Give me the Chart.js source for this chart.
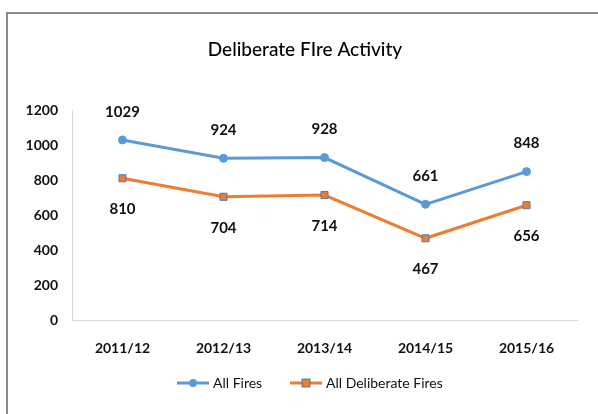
<!DOCTYPE html>
<html>
<head>
<meta charset="utf-8">
<script src="https://cdn.jsdelivr.net/npm/chart.js@4"></script>
<style>
  body { margin: 0; background: #fff; }
  #wrap { position: relative; width: 598px; height: 414px; }
  #frame { position: absolute; left: 6px; top: 12px; right: -4px; bottom: -4px;
           border-top: 2px solid #8a8a8a; border-left: 2px solid #8a8a8a; }
  canvas { position: absolute; left: 0; top: 0; }
</style>
</head>
<body>
<div id="wrap">
  <canvas id="chart" width="598" height="414"></canvas>
  <div id="frame"></div>
</div>
<script>
// Dados do gráfico
const years = ['2011/12', '2012/13', '2013/14', '2014/15', '2015/16'];
const allFires = [1029, 924, 928, 661, 848];
const deliberateFires = [810, 704, 714, 467, 656];
const seriesNames = ['All Fires', 'All Deliberate Fires'];

const blue = '#5B9BD5';
const orange = '#ED7D31';
const fontFamily = 'Lato, "Open Sans", sans-serif';

// Rótulos de valores (acima para a 1ª série, abaixo para a 2ª)
const valueLabels = {
    id: 'valueLabels',
    afterDatasetsDraw(chart) {
        const ctx = chart.ctx;
        ctx.save();
        ctx.font = 'bold 15px ' + fontFamily;
        ctx.fillStyle = '#111';
        ctx.textAlign = 'center';
        ctx.textBaseline = 'middle';
        chart.data.datasets.forEach((ds, i) => {
            const offset = i === 0 ? -28 : 31;
            chart.getDatasetMeta(i).data.forEach((pt, j) => {
                ctx.fillText(ds.data[j], pt.x, pt.y + offset);
            });
        });
        ctx.restore();
    }
};

// Título e legenda desenhados à mão
const titleAndLegend = {
    id: 'titleAndLegend',
    afterDraw(chart) {
        const ctx = chart.ctx;
        ctx.save();
        ctx.fillStyle = '#000';
        ctx.textBaseline = 'middle';
        ctx.textAlign = 'center';
        ctx.font = '500 19px ' + fontFamily;
        ctx.fillText('Deliberate FIre Activity', 305, 50);

        ctx.font = '14px ' + fontFamily;
        ctx.textAlign = 'left';
        const y = 383;
        const items = [
            { x: 177, color: blue, style: 'circle' },
            { x: 290, color: orange, style: 'rect' }
        ];
        items.forEach((it, i) => {
            ctx.strokeStyle = it.color;
            ctx.lineWidth = 3;
            ctx.beginPath();
            ctx.moveTo(it.x, y);
            ctx.lineTo(it.x + 32, y);
            ctx.stroke();
            const cx = it.x + 16;
            if (it.style === 'circle') {
                ctx.fillStyle = blue;
                ctx.beginPath();
                ctx.arc(cx, y, 4, 0, Math.PI * 2);
                ctx.fill();
            } else {
                ctx.fillStyle = orange;
                ctx.fillRect(cx - 4, y - 4, 8, 8);
                ctx.strokeStyle = '#4a7ebb';
                ctx.lineWidth = 1;
                ctx.strokeRect(cx - 4, y - 4, 8, 8);
            }
            ctx.fillStyle = '#111';
            ctx.fillText(seriesNames[i], it.x + 36, y);
        });
        ctx.restore();
    }
};

new Chart(document.getElementById('chart').getContext('2d'), {
    type: 'line',
    data: {
        labels: years,
        datasets: [{
            label: seriesNames[0],
            data: allFires,
            borderColor: blue,
            backgroundColor: blue,
            borderWidth: 3,
            pointStyle: 'circle',
            pointRadius: 4,
            pointBorderWidth: 1,
            pointBorderColor: blue,
            tension: 0
        }, {
            label: seriesNames[1],
            data: deliberateFires,
            borderColor: orange,
            backgroundColor: orange,
            borderWidth: 3,
            pointStyle: 'rect',
            pointRadius: 5,
            pointBorderWidth: 1,
            pointBorderColor: '#4a7ebb',
            tension: 0
        }]
    },
    options: {
        responsive: false,
        animation: false,
        layout: {
            padding: { left: 12, top: 110, right: 21, bottom: 60 }
        },
        scales: {
            x: {
                offset: true,
                grid: { display: false, drawTicks: false },
                border: { display: true, color: '#d9d9d9', width: 1 },
                ticks: {
                    padding: 20,
                    color: '#111',
                    font: { family: fontFamily, size: 14, weight: 'bold' }
                },
                afterFit(scale) { scale.height = 34; }
            },
            y: {
                min: 0,
                max: 1200,
                ticks: {
                    stepSize: 200,
                    padding: 14,
                    color: '#111',
                    font: { family: fontFamily, size: 14, weight: 'bold' },
                    callback: (v) => String(v)
                },
                grid: { display: false, drawTicks: false },
                border: { display: true, color: '#d9d9d9', width: 1 },
                afterFit(scale) { scale.width = 60; }
            }
        },
        plugins: {
            legend: { display: false },
            title: { display: false },
            tooltip: { enabled: false }
        }
    },
    plugins: [valueLabels, titleAndLegend]
});
</script>
</body>
</html>
